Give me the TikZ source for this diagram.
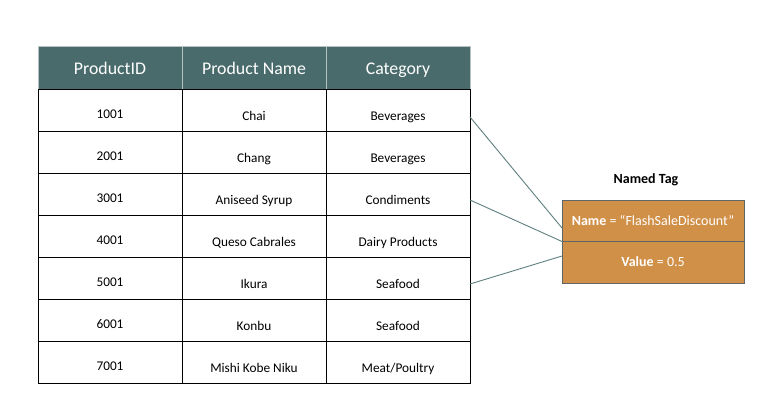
\documentclass[tikz,border=0pt]{standalone}
\usepackage{fontspec}
\setmainfont{Carlito}
\definecolor{hdr}{HTML}{4A6B6B}
\definecolor{hdrline}{HTML}{B8C2C2}
\definecolor{tagfill}{HTML}{D19048}
\definecolor{tagline}{HTML}{5E6666}
\definecolor{conn}{HTML}{5F7F7F}
\begin{document}
\begin{tikzpicture}[x=1pt,y=-1pt,
  hdrtext/.style={text=white,anchor=base,font=\fontsize{17.8}{20}\selectfont},
  celltext/.style={anchor=base,font=\fontsize{13.3}{15}\selectfont},
  tagtext/.style={text=white,anchor=base,font=\fontsize{14}{16}\selectfont},
  conline/.style={draw=conn,line width=0.9pt}]
\useasboundingbox (0,0) rectangle (760,407);
\fill[white] (0,0) rectangle (760,407);
% header
\fill[hdr] (38,46) rectangle (470,89);
\draw[hdrline,line width=1pt] (38,46) rectangle (470,89);
\draw[hdrline,line width=1pt] (182,46) -- (182,89) (326,46) -- (326,89);
\node[hdrtext] (h1) at (110,74.5) {ProductID};
\node[hdrtext] (h2) at (254,74.5) {Product Name};
\node[hdrtext] (h3) at (398,74.5) {Category};
% body grid
\draw[black,line width=0.9pt] (38,89) rectangle (470,383);
\foreach \y in {131,173,215,257,299,341} \draw[black,line width=0.9pt] (38,\y) -- (470,\y);
\draw[black,line width=0.9pt] (182,89) -- (182,383) (326,89) -- (326,383);
% rows
\foreach \i/\id/\nm/\ct in {0/1001/{Chai}/{Beverages},1/2001/{Chang}/{Beverages},2/3001/{Aniseed Syrup}/{Condiments},3/4001/{Queso Cabrales}/{Dairy Products},4/5001/{Ikura}/{Seafood},5/6001/{Konbu}/{Seafood},6/7001/{Mishi Kobe Niku}/{Meat/Poultry}}{
  \node[celltext] (id\i) at (110,{118.5+42*\i}) {\id};
  \node[celltext] (nm\i) at (254,{120.5+42*\i}) {\nm};
  \node[celltext] (ct\i) at (398,{120.5+42*\i}) {\ct};
}
\coordinate (r1) at (470,117);
\coordinate (r3) at (470,200);
\coordinate (r5) at (470,284);
% named tag
\node[anchor=base,font=\bfseries\fontsize{14}{16}\selectfont] (tagtitle) at (646,183) {Named Tag};
\draw[tagline,fill=tagfill,line width=1pt] (562,200) rectangle (744,241.5);
\draw[tagline,fill=tagfill,line width=1pt] (562,241.5) rectangle (744,283);
\node[tagtext] (tname) at (653,225) {\textbf{Name} = “FlashSaleDiscount”};
\node[tagtext] (tval) at (653,266.5) {\textbf{Value} = 0.5};
\coordinate (t1) at (562,228);
\coordinate (t2) at (562,241.5);
\coordinate (t3) at (562,256);
\draw[conline] (r1) -- (t1);
\draw[conline] (r3) -- (t2);
\draw[conline] (r5) -- (t3);
\end{tikzpicture}
\end{document}
